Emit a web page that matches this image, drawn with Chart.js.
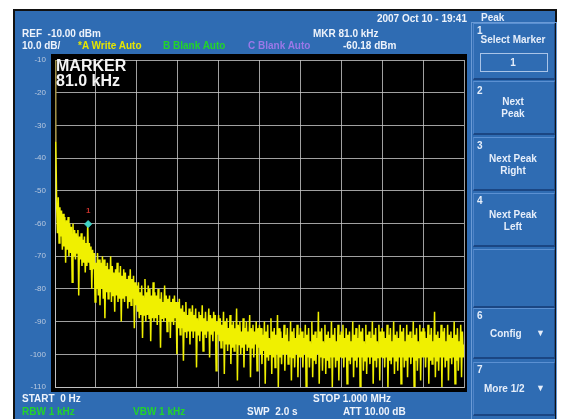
<!DOCTYPE html>
<html>
<head>
<meta charset="utf-8">
<script src="https://cdn.jsdelivr.net/npm/chart.js@4/dist/chart.umd.min.js"></script>
<style>
  html, body { margin: 0; padding: 0; background: #fff; width: 562px; height: 419px; overflow: hidden; }
  #screen { position: absolute; left: 13px; top: 9px; width: 540px; height: 420px;
            background: #2f6cb3; border: 2px solid #111; border-bottom: none; }
  #chart { position: absolute; left: 0; top: 0; }
  .t { position: absolute; font: bold 10px "Liberation Sans", Arial, sans-serif; color: #eef3fb;
       white-space: nowrap; line-height: 10px; }
  .yel { color: #e6e600; }
  .grn { color: #22d42a; }
  .pur { color: #9a78e8; }
  .big { font-size: 16px; line-height: 16px; color: #f4f4f4; }
  #panel { position: absolute; left: 471px; top: 22px; width: 84px; height: 400px;
           border: 1px solid #6a9ad6; border-bottom: none; }
  .key { position: absolute; left: 473px; width: 80px; background: #2f6cb3;
         border-top: 1px solid #5b90d2; border-left: 1px solid #4f84c8;
         border-bottom: 2px solid #1b4683; border-right: 1px solid #1f4d8c; }
  .kt { position: absolute; font: bold 10px "Liberation Sans", Arial, sans-serif; color: #e6eefa;
        white-space: nowrap; line-height: 10px; }
  .c { width: 80px; text-align: center; left: 473px; }
  #selbox { position: absolute; left: 480px; top: 53px; width: 66px; height: 17px;
            border: 1px solid #a9c4e8; }
</style>
</head>
<body>
<div id="screen"></div>
<canvas id="chart" width="562" height="419"></canvas>

<div class="t" style="left:370px; top:14px; width:97px; text-align:right;">2007 Oct 10 - 19:41</div>
<div class="t" style="left:22px; top:29px;">REF&nbsp; -10.00 dBm</div>
<div class="t" style="left:313px; top:29px;">MKR 81.0 kHz</div>
<div class="t" style="left:22px; top:41px;">10.0 dB/</div>
<div class="t yel" style="left:78px; top:41px;">*A Write Auto</div>
<div class="t grn" style="left:163px; top:41px;">B Blank Auto</div>
<div class="t pur" style="left:248px; top:41px;">C Blank Auto</div>
<div class="t" style="left:343px; top:41px;">-60.18 dBm</div>
<div class="t big" style="left:56px; top:58px;">MARKER</div>
<div class="t big" style="left:56px; top:73px;">81.0 kHz</div>

<div class="t" style="left:22px; top:394px;">START&nbsp; 0 Hz</div>
<div class="t" style="left:313px; top:394px;">STOP 1.000 MHz</div>
<div class="t grn" style="left:22px; top:407px;">RBW 1 kHz</div>
<div class="t grn" style="left:133px; top:407px;">VBW 1 kHz</div>
<div class="t" style="left:247px; top:407px;">SWP&nbsp; 2.0 s</div>
<div class="t" style="left:343px; top:407px;">ATT 10.00 dB</div>

<div id="panel"></div>
<div class="kt" style="left:481px; top:13px;">Peak</div>
<div class="key" style="top:23px; height:54px;"></div>
<div class="key" style="top:81px; height:51px;"></div>
<div class="key" style="top:137px; height:51px;"></div>
<div class="key" style="top:193px; height:51px;"></div>
<div class="key" style="top:249px; height:56px;"></div>
<div class="key" style="top:308px; height:48px;"></div>
<div class="key" style="top:362px; height:51px;"></div>

<div class="kt" style="left:477px; top:26px;">1</div>
<div class="kt c" style="top:35px;">Select Marker</div>
<div id="selbox"></div>
<div class="kt c" style="top:58px;">1</div>
<div class="kt" style="left:477px; top:86px;">2</div>
<div class="kt c" style="top:97px;">Next</div>
<div class="kt c" style="top:109px;">Peak</div>
<div class="kt" style="left:477px; top:141px;">3</div>
<div class="kt c" style="top:154px;">Next Peak</div>
<div class="kt c" style="top:166px;">Right</div>
<div class="kt" style="left:477px; top:196px;">4</div>
<div class="kt c" style="top:210px;">Next Peak</div>
<div class="kt c" style="top:222px;">Left</div>
<div class="kt" style="left:477px; top:311px;">6</div>
<div class="kt" style="left:490px; top:329px;">Config</div>
<div class="kt" style="left:536px; top:328px; font-size:9px;">&#9660;</div>
<div class="kt" style="left:477px; top:365px;">7</div>
<div class="kt" style="left:484px; top:384px;">More 1/2</div>
<div class="kt" style="left:536px; top:383px; font-size:9px;">&#9660;</div>

<script>
// sweep: 0 .. 1000 kHz, one point every 2 kHz (50 points per division)
const STEP_KHZ = 2;
const traceDbm = [
    // 0 - 98 kHz
    -10, -35, -54, -63, -52, -66, -55, -64, -56, -68,  -57, -67, -58, -72, -59, -68, -58, -70, -60, -69,
    -61, -78, -60, -70, -62, -71, -63, -69, -62, -82,  -64, -71, -63, -73, -65, -72, -64, -75, -66, -73,
    -60, -72, -66, -74, -67, -80, -68, -74, -69, -84,
    // 100 - 198 kHz
    -72, -80, -69, -82, -71, -85, -72, -80, -70, -83,  -71, -89, -73, -81, -72, -83, -74, -81, -70, -84,
    -73, -82, -75, -87, -74, -82, -72, -84, -75, -83,  -73, -90, -76, -83, -74, -84, -75, -82, -77, -86,
    -76, -84, -74, -85, -77, -83, -76, -92, -78, -85,
    // 200 - 298 kHz
    -79, -87, -78, -89, -81, -88, -79, -95, -82, -88,  -77, -90, -81, -88, -79, -89, -80, -96, -82, -89,
    -78, -90, -81, -89, -82, -91, -80, -88, -83, -98,  -81, -89, -84, -90, -79, -89, -82, -93, -83, -90,
    -82, -95, -84, -90, -83, -91, -82, -89, -84, -100,
    // 300 - 398 kHz
    -84, -92, -83, -94, -86, -92, -85, -102, -87, -93,  -84, -95, -88, -93, -86, -97, -87, -93, -85, -95,
    -88, -93, -86, -104, -89, -94, -87, -96, -88, -93,  -85, -99, -89, -94, -87, -95, -90, -93, -86, -101,
    -88, -94, -89, -96, -87, -93, -88, -105, -90, -94,
    // 400 - 498 kHz
    -88, -96, -89, -98, -91, -96, -87, -106, -90, -97,  -89, -99, -92, -97, -88, -103, -91, -98, -90, -99,
    -92, -97, -86, -108, -91, -97, -90, -100, -93, -98,  -89, -104, -92, -97, -90, -99, -93, -98, -88, -107,
    -92, -98, -91, -101, -93, -97, -90, -105, -92, -98,
    // 500 - 598 kHz
    -91, -100, -92, -103, -94, -99, -90, -109, -93, -101,  -91, -102, -95, -100, -89, -106, -93, -101, -92, -104,
    -94, -100, -88, -110, -92, -101, -93, -103, -95, -100,  -91, -105, -94, -100, -92, -103, -96, -101, -90, -108,
    -93, -101, -92, -104, -95, -100, -91, -107, -94, -101,
    // 600 - 698 kHz
    -92, -101, -93, -104, -95, -100, -91, -110, -94, -101,  -92, -104, -96, -101, -90, -107, -94, -102, -93, -103,
    -95, -100, -87, -109, -93, -101, -92, -105, -96, -101,  -91, -106, -94, -102, -93, -104, -95, -101, -90, -110,
    -94, -101, -92, -104, -96, -102, -91, -108, -94, -101,
    // 700 - 798 kHz
    -93, -101, -91, -104, -95, -101, -92, -109, -94, -102,  -93, -103, -96, -101, -90, -107, -94, -102, -92, -104,
    -95, -101, -91, -110, -93, -101, -92, -105, -96, -102,  -91, -106, -94, -101, -93, -103, -95, -101, -90, -109,
    -94, -102, -92, -104, -96, -101, -91, -108, -93, -101,
    // 800 - 898 kHz
    -92, -101, -93, -104, -95, -101, -91, -110, -94, -102,  -92, -103, -96, -101, -90, -106, -94, -102, -93, -105,
    -95, -101, -91, -109, -93, -101, -92, -104, -96, -102,  -91, -107, -94, -101, -93, -103, -95, -101, -90, -110,
    -94, -102, -92, -105, -96, -101, -91, -108, -93, -101,
    // 900 - 998 kHz
    -92, -101, -93, -104, -95, -101, -91, -109, -94, -102,  -92, -103, -96, -101, -87, -107, -94, -102, -93, -105,
    -95, -101, -91, -110, -93, -101, -92, -104, -96, -102,  -91, -108, -94, -101, -93, -103, -95, -101, -90, -109,
    -94, -102, -92, -105, -96, -101, -91, -107, -93, -101,
    // 1000 kHz
    -97
];
const markerKHz = [81.0];
const markerDbm = [-60.18];
const yTicks = [-10, -20, -30, -40, -50, -60, -70, -80, -90, -100, -110];

const gridColor = 'rgba(200,200,200,0.8)';

const screenBg = {
    id: 'screenBg',
    beforeDraw(chart) {
        const a = chart.chartArea;
        const c = chart.ctx;
        c.save();
        c.fillStyle = '#000';
        c.fillRect(a.left - 4, a.top - 6, a.right - a.left + 7, a.bottom - a.top + 11);
        c.restore();
    }
};

const markerLabel = {
    id: 'markerLabel',
    afterDatasetsDraw(chart) {
        const c = chart.ctx;
        const x = chart.scales.x.getPixelForValue(markerKHz[0]);
        const y = chart.scales.y.getPixelForValue(markerDbm[0]);
        c.save();
        c.fillStyle = '#c8322c';
        c.font = 'bold 8px "Liberation Sans", Arial, sans-serif';
        c.textAlign = 'center';
        c.textBaseline = 'middle';
        c.fillText('1', x, y - 13);
        c.restore();
    }
};

function renderChart() {
    const ctx = document.getElementById('chart').getContext('2d');
    const points = traceDbm.map((v, i) => ({ x: i * STEP_KHZ, y: v }));
    new Chart(ctx, {
        type: 'line',
        data: {
            datasets: [
                {
                    label: 'marker',
                    data: markerKHz.map((f, i) => ({ x: f, y: markerDbm[i] })),
                    showLine: false,
                    pointStyle: 'rectRot',
                    pointRadius: 3.5,
                    backgroundColor: '#3fd6c8',
                    borderColor: '#3fd6c8',
                    order: 0
                },
                {
                    label: 'A',
                    data: points,
                    borderColor: '#f0f000',
                    borderWidth: 1.5,
                    pointRadius: 0,
                    tension: 0,
                    fill: false,
                    order: 1,
                    // the DC feed-through spike shows up dim on the screen
                    segment: {
                        borderColor: c => c.p0DataIndex === 0 ? '#a09048' : undefined,
                        borderWidth: c => c.p0DataIndex === 0 ? 1 : undefined
                    }
                }
            ]
        },
        options: {
            responsive: false,
            animation: false,
            layout: { padding: { left: 0, top: 60, right: 98, bottom: 32 } },
            plugins: { legend: { display: false }, tooltip: { enabled: false } },
            scales: {
                x: {
                    type: 'linear',
                    min: 0,
                    max: 1000,
                    ticks: { display: false, stepSize: 100 },
                    grid: { color: gridColor, drawTicks: false },
                    border: { color: gridColor },
                    afterFit(s) { s.height = 0; }
                },
                y: {
                    min: yTicks[yTicks.length - 1],
                    max: yTicks[0],
                    afterBuildTicks(s) { s.ticks = yTicks.map(v => ({ value: v })); },
                    ticks: {
                        color: '#b9c9df',
                        font: { family: 'Liberation Sans', size: 8 },
                        padding: 9
                    },
                    grid: { color: gridColor, drawTicks: false },
                    border: { color: gridColor },
                    afterFit(s) { s.width = 55; }
                }
            }
        },
        plugins: [screenBg, markerLabel]
    });
}

renderChart();
</script>
</body>
</html>
